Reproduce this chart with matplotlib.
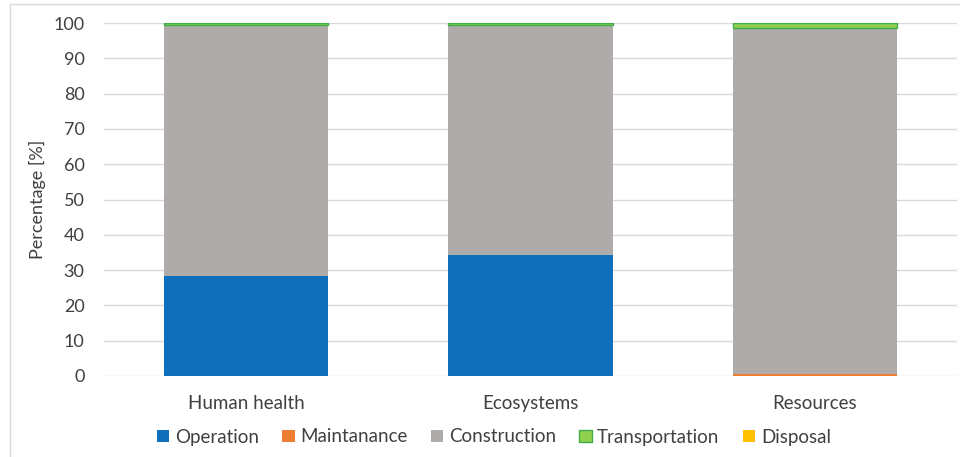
import numpy as np
import matplotlib.pyplot as plt
from matplotlib.patches import Rectangle

plt.rcParams['font.family'] = ['Lato', 'DejaVu Sans']

categories = ['Human health', 'Ecosystems', 'Resources']
operation = [28.3, 34.4, 0.0]
maintanance = [0.0, 0.0, 0.5]
construction = [71.1, 64.9, 98.1]
transportation = [0.6, 0.7, 1.4]
disposal = [0.0, 0.0, 0.0]

series = [
    ('Operation', operation, '#0F6FBA', 'none'),
    ('Maintanance', maintanance, '#ED7D31', 'none'),
    ('Construction', construction, '#AFABAB', 'none'),
    ('Transportation', transportation, '#92D050', '#3FAE49'),
    ('Disposal', disposal, '#FFC000', 'none'),
]

fig = plt.figure(figsize=(9.6, 4.57), dpi=100)
ax = fig.add_axes([104/960, 1 - 376/457, (957-104)/960, (376-23)/457])

x = np.arange(len(categories))
bottom = np.zeros(len(categories))
for name, vals, col, ec in series:
    vals = np.array(vals)
    ax.bar(x, vals, 0.577, bottom=bottom, color=col, edgecolor=ec,
           linewidth=1.0 if ec != 'none' else 0, label=name, zorder=3)
    bottom += vals

ax.set_xlim(-0.5, 2.5)
ax.set_ylim(0, 100)
ax.set_yticks(np.arange(0, 101, 10))
ax.set_xticks(x)
ax.set_xticklabels(categories)
ax.grid(axis='y', color='#D9D9D9', linewidth=1, zorder=0)
for s in ax.spines.values():
    s.set_visible(False)
ax.tick_params(length=0, labelsize=13, colors='#404040')
ax.tick_params(axis='x', pad=14, labelsize=13.5)
ax.tick_params(axis='y', pad=14)
ax.set_ylabel('Percentage [%]', fontsize=13, color='#404040', labelpad=5)

leg = fig.legend(loc='center', bbox_to_anchor=(494/960, 1 - 437/457), ncol=5,
                 frameon=False, fontsize=13.5, handlelength=0.65, handleheight=0.65,
                 handletextpad=0.3, columnspacing=1.25, labelcolor='#404040')

# thin border of the chart area
fig.patches.append(Rectangle((10/960, -0.1), 1.2, 1 - 4/457 + 0.1,
                             transform=fig.transFigure, fill=False,
                             edgecolor='#D9D9D9', linewidth=1))

fig.savefig('out.png', dpi=100)
